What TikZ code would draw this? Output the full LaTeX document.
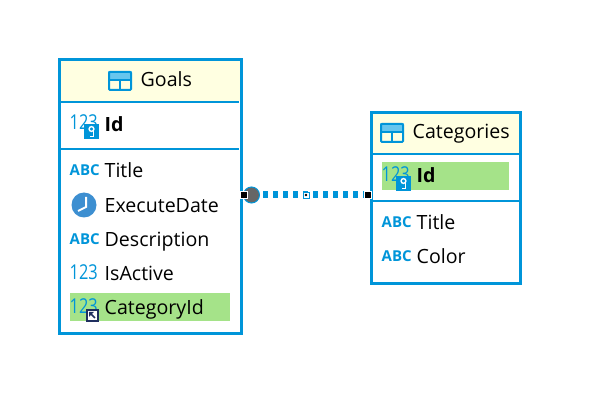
\documentclass[tikz,border=0pt]{standalone}
\usepackage{fontspec}
\setmainfont{Open Sans}
\definecolor{tableblue}{HTML}{0095D9}
\definecolor{cellblue}{HTML}{66C6EE}
\definecolor{headyellow}{HTML}{FFFFE1}
\definecolor{keygreen}{HTML}{A5E389}
\definecolor{clockblue}{HTML}{3D8FD1}
\definecolor{knobgray}{HTML}{666666}
\definecolor{fknavy}{HTML}{1F2F5F}
\tikzset{
    tablebox/.style={draw=tableblue,line width=3pt,fill=white},
    headbox/.style={fill=headyellow},
    rowline/.style={draw=tableblue,line width=2pt},
    keyrow/.style={fill=keygreen},
    colname/.style={anchor=base west,inner sep=0pt,font=\fontsize{19.6}{22}\selectfont},
    pkname/.style={colname,font=\fontsize{19.6}{22}\selectfont\bfseries},
    headname/.style={colname},
    numtype/.style={anchor=base west,inner sep=0pt,text=tableblue,xscale=0.8,transform shape,font=\fontsize{20.5}{24}\selectfont},
    strtype/.style={anchor=base west,inner sep=0pt,text=tableblue,font=\fontsize{15}{16}\selectfont\bfseries},
    handle/.style={draw=white,line width=0.8pt,fill=black,minimum size=6.5pt,inner sep=0pt},
    midhandle/.style={draw=tableblue,line width=0.8pt,fill=white,minimum size=6pt,inner sep=0pt,
        path picture={\fill[black] (path picture bounding box.center) circle[radius=1.3pt];}},
    relation/.style={draw=tableblue,line width=7pt,dash pattern=on 5pt off 5pt,dash phase=1pt},
    knob/.style={circle,draw=tableblue,line width=1pt,fill=knobgray,minimum size=16pt,inner sep=0pt},
    tableicon/.pic={
        \fill[cellblue] (0,0) rectangle (24,8);
        \draw[tableblue,line width=2pt,rounded corners=1pt] (1,1) rectangle (23,19);
        \draw[tableblue,line width=2pt] (1,9) -- (23,9);
        \draw[tableblue,line width=2pt] (12,9) -- (12,19);
    },
    keybadge/.pic={
        \fill[tableblue] (0,0) rectangle (15,15);
        \draw[white,line width=1.4pt] (7.5,5) circle[radius=2.4];
        \draw[white,line width=1.4pt] (9.5,7.5) -- (9.5,12.5) -- (6,12.5);
    },
    fkbadge/.pic={
        \fill[fknavy] (0,0) rectangle (13,13);
        \fill[white] (2,2) rectangle (11,11);
        \draw[fknavy,line width=1.5pt] (3.5,3.5) -- (9,9);
        \fill[fknavy] (3,3) -- (8,3) -- (3,8) -- cycle;
    }
}

\begin{document}
\begin{tikzpicture}[x=1pt,y=-1pt]
        \useasboundingbox (0,0) rectangle (590,414);

        % Goals
        \filldraw[tablebox] (59.5,59.5) rectangle (241.5,333.5);
        \fill[headbox] (61,61) rectangle (240,101);
        \draw[rowline] (60,102) -- (239,102);
        \draw[rowline] (60,149) -- (239,149);
        \fill[keyrow] (70,293) rectangle (230,321);
        \pic at (108,71) {tableicon};
        \node[headname] (goalstitle) at (140.5,87) {Goals};
        \node[numtype] (goalsidtype) at (69.5,130) {123};
        \pic at (84,124) {keybadge};
        \node[pkname] (goalsid) at (104.5,131.5) {Id};
        \node[strtype] (titletype) at (69.5,176) {ABC};
        \node[colname] (goalsname) at (104.5,178) {Title};
        \fill[clockblue] (84,205) circle[radius=12.5];
        \draw[white,line width=2pt] (86,197) -- (86,207) -- (78,211);
        \node[colname] (execdate) at (104.5,213) {ExecuteDate};
        \node[strtype] (desctype) at (69.5,245) {ABC};
        \node[colname] (descr) at (104.5,247) {Description};
        \node[numtype] (activetype) at (69.5,279.5) {123};
        \node[colname] (active) at (104.5,280.5) {IsActive};
        \node[numtype] (cattype) at (69.5,313.5) {123};
        \pic at (86,309) {fkbadge};
        \node[colname] (catid) at (104.5,314.5) {CategoryId};

        % Categories
        \filldraw[tablebox] (371.5,112.5) rectangle (520.5,283.5);
        \fill[headbox] (373,114) rectangle (519,153);
        \draw[rowline] (372,154) -- (519,154);
        \draw[rowline] (372,201) -- (519,201);
        \fill[keyrow] (382,162) rectangle (509,190);
        \pic at (380,123) {tableicon};
        \node[headname] (cattitle) at (412.5,139) {Categories};
        \node[numtype] (catidtype) at (381.5,182) {123};
        \pic at (396,176) {keybadge};
        \node[pkname] (catkey) at (416.5,183) {Id};
        \node[strtype] (cattitletype) at (381.5,228) {ABC};
        \node[colname] (catname) at (416.5,230) {Title};
        \node[strtype] (colortype) at (381.5,262) {ABC};
        \node[colname] (catcolor) at (416.5,264) {Color};

        % relation
        \coordinate (relfrom) at (244,195);
        \coordinate (relto) at (368,195);
        \draw[relation] (relfrom) -- (relto);
        \node[knob] (relknob) at (251.5,195) {};
        \node[handle] (handlefrom) at (relfrom) {};
        \node[midhandle] (handlemid) at (306,195) {};
        \node[handle] (handleto) at (relto) {};
    \end{tikzpicture}
\end{document}
